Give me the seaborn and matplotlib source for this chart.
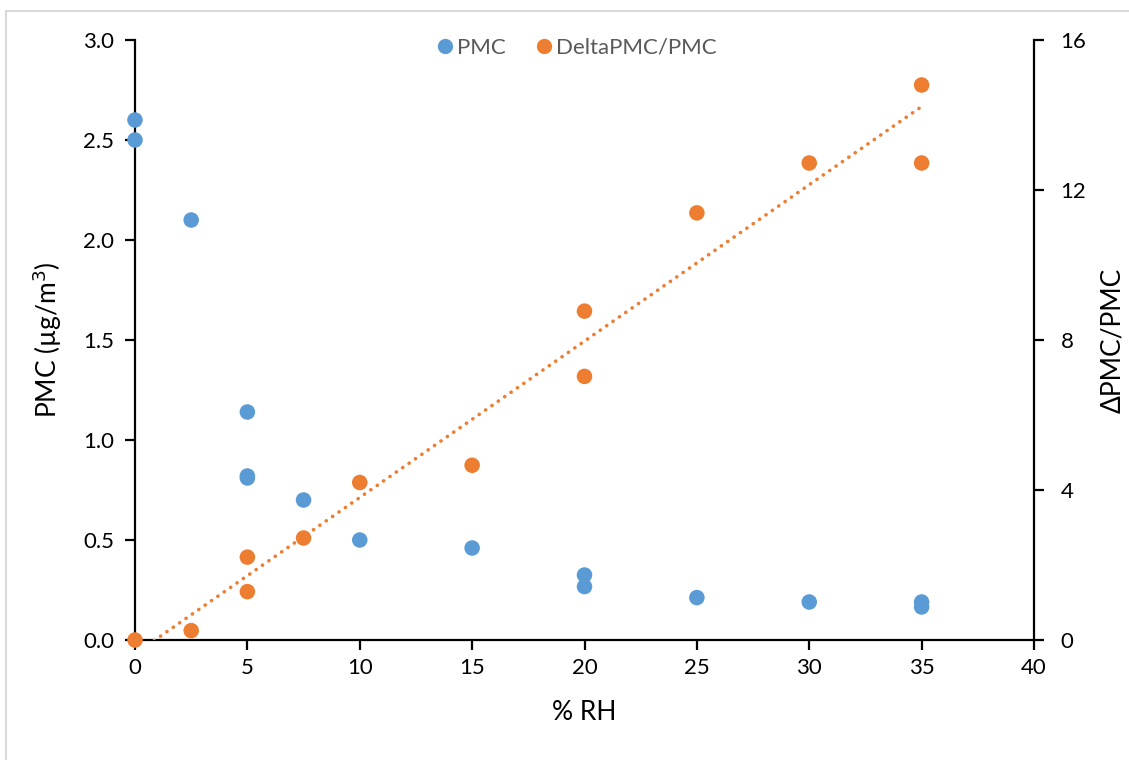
import numpy as np
import pandas as pd
import matplotlib
matplotlib.use("Agg")
import matplotlib.pyplot as plt
from matplotlib.lines import Line2D
import seaborn as sns

# Particle mass concentration versus relative humidity
pmc_rh = [0, 0, 2.5, 5, 5, 5, 7.5, 10, 15, 20, 20, 25, 30, 35, 35]
pmc_val = [2.60, 2.50, 2.10, 1.14, 0.82, 0.81, 0.70, 0.50, 0.46, 0.325, 0.267, 0.212, 0.19, 0.19, 0.165]

# Relative change of PMC versus relative humidity
delta_rh = [0, 2.5, 5, 5, 7.5, 10, 15, 20, 20, 25, 30, 35, 35]
delta_val = [0.0, 0.25, 2.21, 1.29, 2.72, 4.20, 4.66, 8.77, 7.03, 11.39, 12.72, 14.80, 12.72]

x_ticks = [0, 5, 10, 15, 20, 25, 30, 35, 40]
left_ticks = [0.0, 0.5, 1.0, 1.5, 2.0, 2.5, 3.0]
right_ticks = [0, 4, 8, 12, 16]

BLUE = "#5B9BD5"
ORANGE = "#ED7D31"
FS = 16
LFS = 19

sns.set_theme(style="white")
plt.rcParams["font.family"] = ["Lato", "DejaVu Sans"]
plt.rcParams["font.size"] = FS

pmc_df = pd.DataFrame({"rh": pmc_rh, "pmc": pmc_val})
delta_df = pd.DataFrame({"rh": delta_rh, "delta": delta_val})

fig = plt.figure(figsize=(11.29, 7.6), dpi=100)
ax = fig.add_axes([135 / 1129, 1 - 640 / 760, (1034 - 135) / 1129, 600 / 760])
ax2 = ax.twinx()

sns.scatterplot(data=pmc_df, x="rh", y="pmc", ax=ax, color=BLUE, s=125,
                edgecolor="none", zorder=3, clip_on=False, legend=False)
sns.scatterplot(data=delta_df, x="rh", y="delta", ax=ax2, color=ORANGE, s=125,
                edgecolor="none", zorder=3, clip_on=False, legend=False)

# Linear trend of the relative change, dotted
sns.regplot(data=delta_df, x="rh", y="delta", ax=ax2, scatter=False, ci=None,
            truncate=True, color=ORANGE,
            line_kws=dict(linestyle=(0, (0.05, 2.1)), linewidth=2.6,
                          dash_capstyle="round", zorder=4))

ax.set_xlim(0, 40)
ax.set_ylim(0, 3.0)
ax2.set_ylim(0, 16)
ax.set_xticks(x_ticks)
ax.set_yticks(left_ticks)
ax.set_yticklabels([f"{v:.1f}" for v in left_ticks])
ax2.set_yticks(right_ticks)
ax2.set_yticklabels([str(v) for v in right_ticks])

ax.set_xlabel("% RH", fontsize=LFS, color="#000000", labelpad=16)
ax.set_ylabel("PMC (µg/m$^3$)", fontsize=LFS, color="#000000", labelpad=14)
ax2.set_ylabel("ΔPMC/PMC", fontsize=LFS, color="#000000", labelpad=10, rotation=90)

for a in (ax, ax2):
    for side in ("left", "right", "bottom", "top"):
        a.spines[side].set_visible(False)
ax.spines["left"].set_visible(True)
ax.spines["bottom"].set_visible(True)
ax2.spines["right"].set_visible(True)
for sp in (ax.spines["left"], ax.spines["bottom"], ax2.spines["right"]):
    sp.set_color("black")
    sp.set_linewidth(1.6)
    sp.set_zorder(2)

ax.tick_params(axis="x", direction="out", length=7, width=1.6, color="black",
               bottom=True, labelsize=FS, labelcolor="#000000", pad=6)
ax.tick_params(axis="y", direction="out", length=7, width=1.6, color="black",
               left=True, labelsize=FS, labelcolor="#000000", pad=8)
ax2.tick_params(axis="y", direction="out", length=7, width=1.6, color="black",
                right=True, labelsize=FS, labelcolor="#000000", pad=12)
ax.grid(False)
ax2.grid(False)
ax2.set_zorder(ax.get_zorder() + 1)
ax2.patch.set_visible(False)

handles = [
    Line2D([], [], marker="o", linestyle="none", markersize=11,
           markerfacecolor=BLUE, markeredgecolor="none", label="PMC"),
    Line2D([], [], marker="o", linestyle="none", markersize=11,
           markerfacecolor=ORANGE, markeredgecolor="none", label="DeltaPMC/PMC"),
]
leg = fig.legend(handles=handles, loc="center", bbox_to_anchor=(575 / 1129, 1 - 48 / 760),
                 ncol=2, frameon=False, fontsize=FS, handletextpad=0.05,
                 columnspacing=1.2, handlelength=1.0)
for t in leg.get_texts():
    t.set_color("#595959")

# Light frame around the chart area
fig.add_artist(Line2D([5.5 / 1129, 1.0], [1 - 10.5 / 760, 1 - 10.5 / 760],
                      transform=fig.transFigure, color="#D9D9D9", linewidth=1.5))
fig.add_artist(Line2D([5.5 / 1129, 5.5 / 1129], [0.0, 1 - 10.5 / 760],
                      transform=fig.transFigure, color="#D9D9D9", linewidth=1.5))

fig.savefig("out.png", dpi=100, facecolor="white")
